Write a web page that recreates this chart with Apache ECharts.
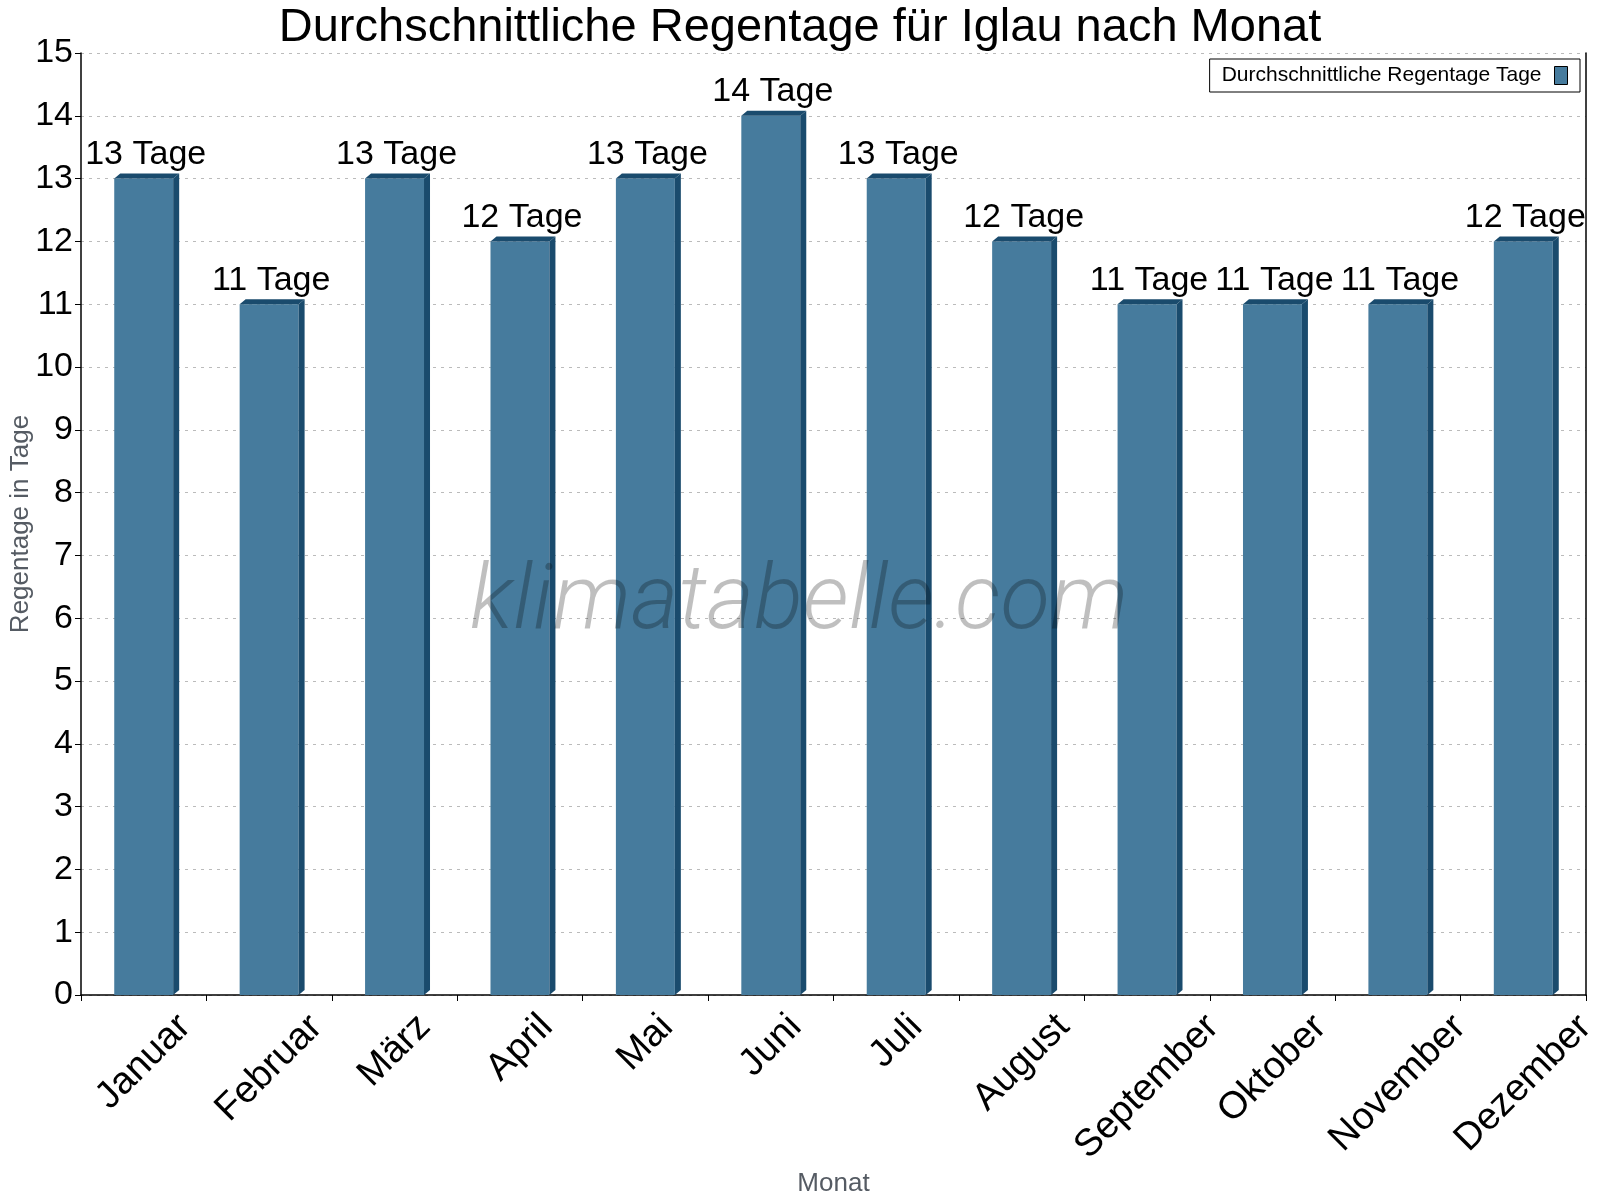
<!DOCTYPE html>
<html>
<head>
<meta charset="utf-8">
<title>Regentage Iglau</title>
<script src="https://cdn.jsdelivr.net/npm/echarts@6/dist/echarts.min.js"></script>
<style>
  html, body { margin: 0; padding: 0; background: #fff; }
  #chart { width: 1600px; height: 1200px; }
</style>
</head>
<body>
<div id="chart"></div>
<script>
// Daten
var months = ['Januar', 'Februar', 'März', 'April', 'Mai', 'Juni', 'Juli', 'August', 'September', 'Oktober', 'November', 'Dezember'];
var rainDays = [13, 11, 13, 12, 13, 14, 13, 12, 11, 11, 11, 12];
var yTicks = [0, 15, 1]; // min, max, interval

var frontColor = '#467b9d';
var darkColor = '#1a4b6d';
var font = 'Liberation Sans';
var xLabelSize = 38;

var chart = echarts.init(document.getElementById('chart'));

// gedrehte Monatsnamen: Umriss oben bündig, horizontal auf der Kategorie zentriert
var measure = document.createElement('canvas').getContext('2d');
measure.font = xLabelSize + 'px "' + font + '"';
var monthRich = {};
months.forEach(function (m, i) {
  var w = measure.measureText(m).width;
  var d = 0.354 * (w + xLabelSize * 0.9);
  var p = Math.round(1.414 * d);
  monthRich['m' + i] = {
    fontSize: xLabelSize, color: '#000', fontFamily: font,
    padding: [p, p, 0, 0]
  };
});

// 3D-Säule: Front, rechte Seite, Deckfläche + Beschriftung
function renderBar(params, api) {
  var idx = api.value(0);
  var base = api.coord([idx, 0]);
  var top = api.coord([idx, api.value(1)]);
  var bw = api.size([1, 0])[0] * 0.47;
  var x0 = base[0] - bw / 2;
  var x1 = base[0] + bw / 2;
  var dx = 6, dy = 5;
  return {
    type: 'group',
    children: [
      {
        type: 'rect',
        shape: { x: x0, y: top[1], width: bw, height: base[1] - top[1] },
        style: { fill: frontColor }
      },
      {
        type: 'polygon',
        shape: { points: [[x1, top[1]], [x1 + dx, top[1] - dy], [x1 + dx, base[1] - dy], [x1, base[1]]] },
        style: { fill: darkColor }
      },
      {
        type: 'polygon',
        shape: { points: [[x0, top[1]], [x0 + dx, top[1] - dy], [x1 + dx, top[1] - dy], [x1, top[1]]] },
        style: { fill: darkColor }
      },
      {
        type: 'text',
        x: base[0] + 2,
        y: top[1] - 24,
        style: {
          text: api.value(1) + ' Tage',
          font: '34px "' + font + '"',
          fill: '#000',
          align: 'center',
          verticalAlign: 'middle'
        }
      }
    ]
  };
}

var option = {
  animation: false,
  textStyle: { fontFamily: font },
  title: {
    text: 'Durchschnittliche Regentage für Iglau nach Monat',
    left: 'center',
    top: 0,
    textStyle: { fontSize: 47, fontWeight: 'normal', color: '#000', fontFamily: font }
  },
  legend: {
    right: 20,
    top: 59,
    align: 'right',
    padding: [6, 12, 6, 12],
    borderColor: '#000',
    borderWidth: 1,
    itemWidth: 13,
    itemHeight: 18,
    textStyle: { fontSize: 21, color: '#000', fontFamily: font, padding: [0, 8, 0, 0] },
    data: [{
      name: 'Durchschnittliche Regentage Tage',
      icon: 'rect',
      itemStyle: { color: frontColor, borderColor: '#000', borderWidth: 1 }
    }]
  },
  grid: { left: 81, right: 14, top: 53, bottom: 205, containLabel: false, outerBoundsMode: 'none' },
  xAxis: {
    type: 'category',
    data: months,
    name: 'Monat',
    nameLocation: 'middle',
    nameGap: 176,
    nameMoveOverlap: false,
    nameTextStyle: { fontSize: 26, color: '#555b63', fontFamily: font },
    axisLine: { lineStyle: { color: '#000', width: 1.5 } },
    axisTick: { show: true, length: 6, lineStyle: { color: '#000' } },
    axisLabel: {
      rotate: 45,
      align: 'center',
      verticalAlign: 'middle',
      margin: 14,
      interval: 0,
      hideOverlap: false,
      formatter: function (v, i) { return '{m' + i + '|' + v + '}'; },
      rich: monthRich
    },
    splitLine: { show: false }
  },
  yAxis: [{
    type: 'value',
    min: yTicks[0],
    max: yTicks[1],
    interval: yTicks[2],
    name: 'Regentage in Tage',
    nameLocation: 'middle',
    nameGap: 47,
    nameMoveOverlap: false,
    nameRotate: 90,
    nameTextStyle: { fontSize: 26, color: '#555b63', fontFamily: font },
    axisLine: { show: true, lineStyle: { color: '#000', width: 1.5 } },
    axisTick: { show: true, length: 6, lineStyle: { color: '#000' } },
    axisLabel: { fontSize: 34, color: '#000', margin: 8, fontFamily: font },
    splitLine: { show: true, lineStyle: { color: '#bbbbbb', type: [3, 5], width: 1 } }
  }, {
    type: 'value',
    position: 'right',
    min: yTicks[0],
    max: yTicks[1],
    interval: yTicks[2],
    axisLine: { show: true, lineStyle: { color: '#000', width: 1.5 } },
    axisTick: { show: false },
    axisLabel: { show: false },
    splitLine: { show: false }
  }],
  graphic: [{
    type: 'text',
    x: 799,
    y: 605,
    z: 100,
    silent: true,
    style: {
      text: 'klimatabelle.com',
      font: 'italic 300 91px Roboto',
      fill: 'rgba(0,0,0,0.25)',
      align: 'center',
      verticalAlign: 'middle'
    }
  }],
  series: [{
    name: 'Durchschnittliche Regentage Tage',
    type: 'custom',
    renderItem: renderBar,
    itemStyle: { color: frontColor },
    data: rainDays.map(function (v, i) { return [i, v]; }),
    encode: { x: 0, y: 1 }
  }]
};

chart.setOption(option);
</script>
</body>
</html>
